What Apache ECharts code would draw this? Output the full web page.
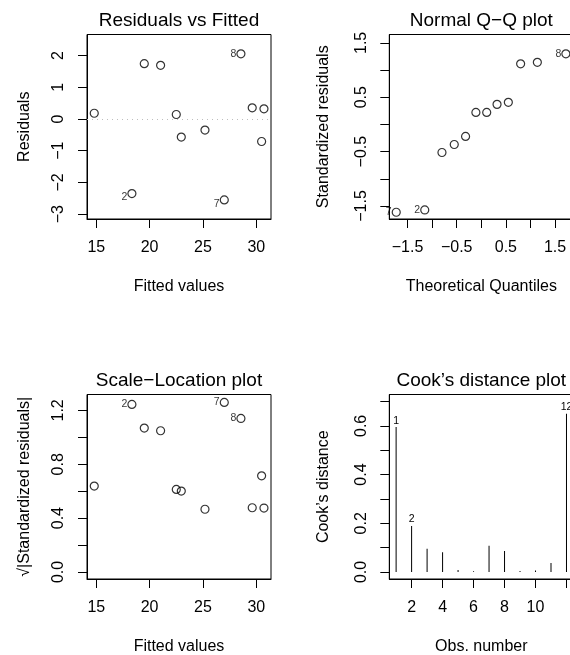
<!DOCTYPE html>
<html>
<head>
<meta charset="utf-8">
<script src="https://cdn.jsdelivr.net/npm/echarts@6/dist/echarts.min.js"></script>
<style>
html,body{margin:0;padding:0;background:#fff;}
#chart{width:570px;height:655px;}
</style>
</head>
<body>
<div id="chart"></div>
<script>
// ---------- data ----------
const fittedValues = [14.81, 18.34, 19.50, 21.03, 22.50, 22.97, 25.19, 27.00, 28.56, 29.62, 30.50, 30.72];
const residuals    = [0.18, -2.35, 1.74, 1.69, 0.14, -0.57, -0.35, -2.55, 2.05, 0.35, -0.71, 0.32];
const sqrtAbsStdResiduals = [0.638, 1.244, 1.069, 1.049, 0.613, 0.601, 0.466, 1.259, 1.140, 0.477, 0.714, 0.475];
const pointIds     = ['', '2', '', '', '', '', '', '7', '8', '', '', ''];

const theoreticalQuantiles = [-1.73, -1.15, -0.80, -0.55, -0.32, -0.11, 0.11, 0.32, 0.55, 0.80, 1.14, 1.72];
const sortedStdResiduals   = [-1.615, -1.573, -0.516, -0.369, -0.221, 0.221, 0.221, 0.369, 0.406, 1.114, 1.143, 1.298];
const qqIds                = ['7', '2', '', '', '', '', '', '', '', '', '', '8'];

const obsNumber     = [1, 2, 3, 4, 5, 6, 7, 8, 9, 10, 11, 12];
const cooksDistance = [0.595, 0.189, 0.095, 0.081, 0.008, 0.003, 0.108, 0.086, 0.004, 0.006, 0.037, 0.650];
const cooksIds      = ['1', '2', '', '', '', '', '', '', '', '', '', '12'];

const titles = ['Residuals vs Fitted', 'Normal Q\u2212Q plot', 'Scale\u2212Location plot', 'Cook\u2019s distance plot'];
const xNames = ['Fitted values', 'Theoretical Quantiles', 'Fitted values', 'Obs. number'];
const yNames = ['Residuals', 'Standardized residuals', '\u221A|Standardized residuals|', 'Cook\u2019s distance'];

const fittedTicks = [15, 20, 25, 30];
const residTicks  = [-3, -2, -1, 0, 1, 2];
const qqTicks     = [-1.5, -1, -0.5, 0, 0.5, 1, 1.5];
const qqLabels    = [-1.5, -0.5, 0.5, 1.5];
const slTicks     = [0, 0.2, 0.4, 0.6, 0.8, 1.0, 1.2];
const slLabels    = [0, 0.4, 0.8, 1.2];
const obsTicks    = [2, 4, 6, 8, 10, 12];
const obsLabels   = [2, 4, 6, 8, 10];
const cookTicks   = [0, 0.1, 0.2, 0.3, 0.4, 0.5, 0.6, 0.7];
const cookLabels  = [0, 0.2, 0.4, 0.6];

// ---------- styling / layout ----------
const FONT = '"Liberation Sans", Arial, Helvetica, sans-serif';
const FS = 16;
const grids = [
  {left: 87, top: 34.5, width: 184, height: 184.5},
  {left: 389.3, top: 34.5, width: 184, height: 184.5},
  {left: 87, top: 394.5, width: 184, height: 184.5},
  {left: 389.3, top: 394.5, width: 184, height: 184.5}
];
const ranges = [
  {x: [14.13, 31.38], y: [-3.15, 2.66]},
  {x: [-1.871, 1.871], y: [-1.739, 1.654]},
  {x: [14.13, 31.38], y: [-0.052, 1.318]},
  {x: [0.56, 12.44], y: [-0.029, 0.729]}
];
const minus = s => String(s).replace('-', '\u2212');
const fmtInt = v => minus(Math.round(v));
const fmt1 = v => minus((Math.round(v * 10) / 10).toFixed(1));

function xAxis(i, ticks, labels, fmt) {
  return {
    type: 'value', gridIndex: i, min: ranges[i].x[0], max: ranges[i].x[1],
    splitLine: {show: false},
    axisLine: {show: true, onZero: false, lineStyle: {color: '#000', width: 1}},
    axisTick: {show: true, length: 9, customValues: ticks, lineStyle: {color: '#000', width: 1}},
    axisLabel: {customValues: labels, formatter: fmt, color: '#000', fontSize: FS, fontFamily: FONT, margin: 21},
    name: xNames[i], nameLocation: 'middle', nameGap: 60, nameMoveOverlap: false,
    nameTextStyle: {color: '#000', fontSize: FS, fontFamily: FONT}
  };
}
function yAxis(i, ticks, labels, fmt) {
  return {
    type: 'value', gridIndex: i, min: ranges[i].y[0], max: ranges[i].y[1],
    splitLine: {show: false},
    axisLine: {show: true, onZero: false, lineStyle: {color: '#000', width: 1}},
    axisTick: {show: true, length: 9, customValues: ticks, lineStyle: {color: '#000', width: 1}},
    axisLabel: {customValues: labels, formatter: fmt, rotate: 90, color: '#000', fontSize: FS, fontFamily: FONT, margin: 20},
    name: yNames[i], nameLocation: 'middle', nameGap: 54, nameRotate: 90, nameMoveOverlap: false,
    nameTextStyle: {color: '#000', fontSize: FS, fontFamily: FONT}
  };
}

function points(xs, ys, ids, shiftNeg) {
  return xs.map((x, i) => ({
    value: [x, ys[i]],
    label: {show: ids[i] !== '', formatter: ids[i], offset: (shiftNeg && ys[i] < 0) ? [0, 4] : [0, 0]}
  }));
}
const scatterBase = {
  type: 'scatter', symbol: 'circle', symbolSize: 8,
  itemStyle: {color: 'rgba(0,0,0,0)', borderColor: '#000', borderWidth: 1.2},
  label: {position: 'left', distance: 0, color: '#000', fontSize: 10.5, fontFamily: FONT},
  emphasis: {disabled: true}, silent: true
};

const option = {
  animation: false,
  backgroundColor: '#fff',
  grid: grids.map(g => Object.assign({show: true, borderColor: '#000', borderWidth: 1, backgroundColor: 'transparent', containLabel: false, outerBoundsMode: 'none'}, g)),
  xAxis: [
    xAxis(0, fittedTicks, fittedTicks, fmtInt),
    xAxis(1, qqTicks, qqLabels, fmt1),
    xAxis(2, fittedTicks, fittedTicks, fmtInt),
    xAxis(3, obsTicks, obsLabels, fmtInt)
  ],
  yAxis: [
    yAxis(0, residTicks, residTicks, fmtInt),
    Object.assign(yAxis(1, qqTicks, qqLabels, fmt1), {nameGap: 58}),
    yAxis(2, slTicks, slLabels, fmt1),
    Object.assign(yAxis(3, cookTicks, cookLabels, fmt1), {nameGap: 58})
  ],
  graphic: titles.map((t, i) => ({
    type: 'text',
    x: grids[i].left + grids[i].width / 2,
    y: grids[i].top - 14,
    style: {text: t, textAlign: 'center', textVerticalAlign: 'middle', fill: '#000', font: '19px ' + FONT},
    silent: true
  })),
  series: [
    Object.assign({}, scatterBase, {
      xAxisIndex: 0, yAxisIndex: 0,
      data: points(fittedValues, residuals, pointIds, true),
      markLine: {
        silent: true, symbol: ['none', 'none'], label: {show: false},
        lineStyle: {color: '#bebebe', type: [1, 4], width: 1},
        emphasis: {disabled: true},
        data: [{yAxis: 0}]
      }
    }),
    Object.assign({}, scatterBase, {
      xAxisIndex: 1, yAxisIndex: 1,
      data: points(theoreticalQuantiles, sortedStdResiduals, qqIds, false)
    }),
    Object.assign({}, scatterBase, {
      xAxisIndex: 2, yAxisIndex: 2,
      data: points(fittedValues, sqrtAbsStdResiduals, pointIds, false)
    }),
    {
      type: 'bar', xAxisIndex: 3, yAxisIndex: 3, barWidth: 1, silent: true,
      itemStyle: {color: '#000'},
      label: {position: 'top', distance: 1, color: '#000', fontSize: 10.5, fontFamily: FONT},
      emphasis: {disabled: true},
      data: obsNumber.map((n, i) => ({
        value: [n, cooksDistance[i]],
        label: {show: cooksIds[i] !== '', formatter: cooksIds[i]}
      }))
    }
  ]
};

const chart = echarts.init(document.getElementById('chart'), null, {renderer: 'canvas'});
chart.setOption(option);
</script>
</body>
</html>
